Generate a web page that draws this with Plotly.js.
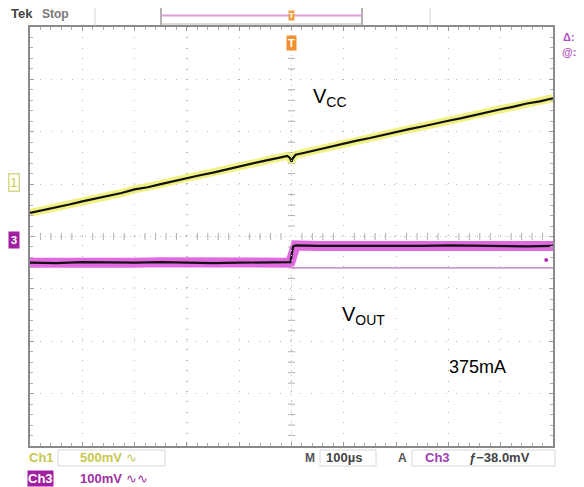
<!DOCTYPE html>
<html><head><meta charset="utf-8">
<script src="https://cdn.plot.ly/plotly-3.0.1.min.js"></script>
<style>body{margin:0;background:#fff}#c{width:584px;height:487px}</style>
</head><body><div id="c"></div>
<script>
// time in µs (100 µs/div), vertical position in divisions
const vccTime = [-500,-475,-450,-425,-400,-375,-350,-325,-300,-275,-250,-225,-200,-175,-150,-125,-100,-75,-50,-25,-8,-3,0,3,8,25,50,75,100,125,150,175,200,225,250,275,300,325,350,375,400,425,450,475,500];
const vccDiv  = [0.45,0.50,0.55,0.61,0.67,0.72,0.78,0.83,0.90,0.94,1.00,1.06,1.11,1.17,1.22,1.28,1.33,1.39,1.45,1.50,1.54,1.50,1.43,1.50,1.56,1.60,1.66,1.72,1.78,1.83,1.88,1.94,1.99,2.05,2.10,2.16,2.21,2.26,2.32,2.37,2.43,2.48,2.54,2.58,2.64];
const voutTime = [-500,-450,-400,-350,-300,-250,-200,-150,-100,-50,-5,-2,3,8,50,100,150,200,250,300,350,400,450,500];
const voutDiv  = [-0.50,-0.51,-0.49,-0.50,-0.50,-0.49,-0.50,-0.51,-0.50,-0.50,-0.50,-0.49,-0.19,-0.17,-0.18,-0.18,-0.19,-0.18,-0.18,-0.17,-0.18,-0.18,-0.19,-0.18];
const refTime = [0,500];
const refDiv = [-0.60,-0.60];
const labels = {vcc:'V<sub>CC</sub>', vout:'V<sub>OUT</sub>', current:'375mA'};
const ch1Scale = '500mV', ch3Scale = '100mV', timeBase = '100µs', trigLevel = '−38.0mV';

const L=30,R=553,T=27,B=446;
const px = x => (x-L)/(R-L), py = y => (B-y)/(B-T);

// center-line tick marks
const tx=[],ty=[],vx=[],vy=[];
for(let i=-25;i<=25;i++){ if(i%5!==0){tx.push(i*20);ty.push(0);} }
for(let i=-20;i<=20;i++){ if(i%5!==0){vx.push(0);vy.push(i*0.2);} }

const data = [
 {x:tx,y:ty,mode:'markers',marker:{symbol:'line-ns',size:5,line:{width:1,color:'#b0b0b0'}},hoverinfo:'skip'},
 {x:vx,y:vy,mode:'markers',marker:{symbol:'line-ew',size:5,line:{width:1,color:'#b0b0b0'}},hoverinfo:'skip'},
 {x:refTime,y:refDiv,mode:'lines',line:{color:'#c070c0',width:1.2},hoverinfo:'skip'},
 {x:vccTime,y:vccDiv,mode:'lines',line:{color:'rgba(238,238,100,0.8)',width:8},hoverinfo:'skip'},
 {x:vccTime,y:vccDiv,mode:'lines',line:{color:'#111',width:2.2},hoverinfo:'skip'},
 {x:voutTime,y:voutDiv,mode:'lines',line:{color:'rgba(220,80,220,0.85)',width:10},hoverinfo:'skip'},
 {x:voutTime,y:voutDiv,mode:'lines',line:{color:'#111',width:2.2},hoverinfo:'skip'},
 {x:[487],y:[-0.45],mode:'markers',marker:{color:'#b030b0',size:4},hoverinfo:'skip'}
];

const ax = {showline:true,linecolor:'#8a8a8a',linewidth:2,mirror:'allticks',ticks:'inside',ticklen:4,tickcolor:'#9a9a9a',
  showticklabels:false,zeroline:false,showgrid:true,gridcolor:'#b8b8b8',griddash:'1px,9.4px',gridwidth:1.2};

const F = 'Liberation Sans';
function A(x,y,text,font,extra){
  return Object.assign({xref:'paper',yref:'paper',x:px(x),y:py(y),text:text,showarrow:false,
    xanchor:'center',yanchor:'middle',font:Object.assign({family:F},font)},extra||{});
}
const layout = {
 width:584,height:487,margin:{l:L,r:584-R,t:T,b:487-B},paper_bgcolor:'#fff',plot_bgcolor:'#fff',showlegend:false,
 xaxis:Object.assign({},ax,{range:[-500,500],dtick:100,minor:{ticks:'inside',ticklen:3,tickcolor:'#b0b0b0',dtick:20}}),
 yaxis:Object.assign({},ax,{range:[-4,4],dtick:1,minor:{ticks:'inside',ticklen:3,tickcolor:'#b0b0b0',dtick:0.2}}),
 shapes:[
  {type:'line',xref:'x',yref:'y',x0:0,x1:0,y0:-4,y1:4,line:{color:'#c8c8c8',width:1,dash:'1px,4px'}},
  {type:'line',xref:'x',yref:'y',x0:-500,x1:500,y0:0,y1:0,line:{color:'#c8c8c8',width:1,dash:'1px,4px'}},
  {type:'line',xref:'paper',yref:'paper',x0:px(95),x1:px(95),y0:py(26),y1:py(8),line:{color:'#d0d0d0',width:1}},
  {type:'line',xref:'paper',yref:'paper',x0:px(161),x1:px(161),y0:py(26),y1:py(8),line:{color:'#9a9a9a',width:1.5}},
  {type:'line',xref:'paper',yref:'paper',x0:px(362),x1:px(362),y0:py(26),y1:py(8),line:{color:'#9a9a9a',width:1.5}},
  {type:'line',xref:'paper',yref:'paper',x0:px(430),x1:px(430),y0:py(26),y1:py(8),line:{color:'#d0d0d0',width:1}},
  {type:'line',xref:'paper',yref:'paper',x0:px(161),x1:px(362),y0:py(15.5),y1:py(15.5),line:{color:'#d8a0d8',width:2}},
  {type:'line',xref:'paper',yref:'paper',x0:px(161),x1:px(362),y0:py(24),y1:py(24),line:{color:'#b8b8b8',width:1}},
  {type:'rect',xref:'paper',yref:'paper',x0:px(58),x1:px(165),y0:py(466),y1:py(450),line:{color:'#d8d8d8',width:1},fillcolor:'rgba(0,0,0,0)'},
  {type:'rect',xref:'paper',yref:'paper',x0:px(320),x1:px(376),y0:py(466),y1:py(450),line:{color:'#d8d8d8',width:1},fillcolor:'rgba(0,0,0,0)'},
  {type:'rect',xref:'paper',yref:'paper',x0:px(412),x1:px(555),y0:py(466),y1:py(450),line:{color:'#d8d8d8',width:1},fillcolor:'rgba(0,0,0,0)'}
 ],
 annotations:[
  A(9,14,'<b>Tek</b>',{size:13,color:'#444'},{xanchor:'left'}),
  A(40,14,'<b>Stop</b>',{size:12,color:'#777'},{xanchor:'left'}),
  A(291,15,'<b>T</b>',{size:8,color:'#fff'},{bgcolor:'#f0a040',borderpad:0}),
  A(291,43,'<b>T</b>',{size:11,color:'#fff'},{bgcolor:'#f09030',borderpad:1}),
  A(569,37,'<b>Δ:</b>',{size:11,color:'#b050c0'}),
  A(569,52,'<b>@:</b>',{size:11,color:'#b050c0'}),
  A(14,183,'1',{size:12,color:'#c8c860'},{bordercolor:'#d8d890',borderwidth:1.5,borderpad:1,bgcolor:'#fffff0'}),
  A(14,240,'<b>3</b>',{size:11,color:'#fff'},{bgcolor:'#a020a0',borderpad:2}),
  A(330,97,labels.vcc,{size:20,color:'#000'},{bgcolor:'#fff'}),
  A(363,315,labels.vout,{size:20,color:'#000'}),
  A(477,367,labels.current,{size:18,color:'#000'}),
  A(27,458,'<b>Ch1</b>',{size:13,color:'#c8c850'},{xanchor:'left'}),
  A(78,458,'<b>'+ch1Scale+'</b> ∿',{size:13,color:'#c8c850'},{xanchor:'left'}),
  A(27,478,'<b>Ch3</b>',{size:13,color:'#fff'},{xanchor:'left',bgcolor:'#a020a0',borderpad:0}),
  A(78,478,'<b>'+ch3Scale+'</b> ∿∿',{size:13,color:'#a030a0'},{xanchor:'left'}),
  A(303,458,'<b>M</b>',{size:12,color:'#555'},{xanchor:'left'}),
  A(324,458,'<b>'+timeBase+'</b>',{size:13,color:'#444'},{xanchor:'left'}),
  A(396,458,'<b>A</b>',{size:12,color:'#555'},{xanchor:'left'}),
  A(423,458,'<b>Ch3</b>',{size:13,color:'#a040b0'},{xanchor:'left'}),
  A(467,458,'<b>ƒ'+trigLevel+'</b>',{size:13,color:'#444'},{xanchor:'left'})
 ]
};
Plotly.newPlot('c',data,layout,{staticPlot:true});
</script></body></html>
